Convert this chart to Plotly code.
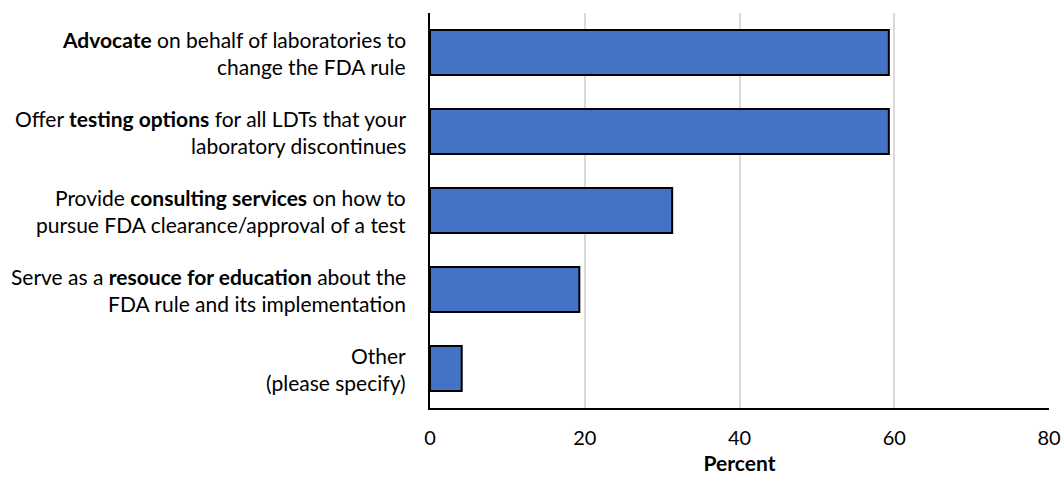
import plotly.graph_objects as go

categories = ["Advocate", "Testing options", "Consulting", "Education", "Other"]
label_lines = [
    ["<b>Advocate</b> on behalf of laboratories to", "change the FDA rule"],
    ["Offer <b>testing options</b> for all LDTs that your", "laboratory discontinues"],
    ["Provide <b>consulting services</b> on how to", "pursue FDA clearance/approval of a test"],
    ["Serve as a <b>resouce for education</b> about the", "FDA rule and its implementation"],
    ["Other", "(please specify)"],
]
values = [59.3, 59.3, 31.3, 19.3, 4.1]
x_ticks = [0, 20, 40, 60, 80]

FONT = "Lato"
FS = 21

fig = go.Figure(go.Bar(
    y=categories, x=values, orientation="h",
    marker=dict(color="#4472C4", line=dict(color="black", width=2)),
    width=0.57,
))

for cat, lines in zip(categories, label_lines):
    fig.add_annotation(x=0, xref="paper", y=cat, yref="y", text=lines[0],
                       showarrow=False, xanchor="right", yanchor="middle", yshift=13, xshift=-22,
                       font=dict(family=FONT, size=FS, color="black"))
    fig.add_annotation(x=0, xref="paper", y=cat, yref="y", text=lines[1],
                       showarrow=False, xanchor="right", yanchor="middle", yshift=-14, xshift=-22,
                       font=dict(family=FONT, size=FS, color="black"))

fig.update_layout(
    width=1063, height=478,
    margin=dict(l=429.5, r=14, t=12.5, b=70, autoexpand=False),
    plot_bgcolor="white", paper_bgcolor="white",
    showlegend=False,
    font=dict(family=FONT, size=FS, color="black"),
    xaxis=dict(range=[0, 80], tickvals=x_ticks, showgrid=True, gridcolor="#D9D9D9", gridwidth=1.5,
               showline=True, linecolor="black", linewidth=1.5, zeroline=False, automargin=False,
               ticks="", ticklen=0, tickfont=dict(size=20), ticklabelstandoff=11,
               title=dict(text="<b>Percent</b>", font=dict(size=21), standoff=9)),
    yaxis=dict(categoryorder="array", categoryarray=categories[::-1], showticklabels=False,
               showline=True, linecolor="black", linewidth=1.5, showgrid=False, ticks="",
               automargin=False),
)

fig.write_html("out.html", config={"displayModeBar": False},
               post_script="document.body.style.margin='0';document.body.style.overflow='hidden';")
